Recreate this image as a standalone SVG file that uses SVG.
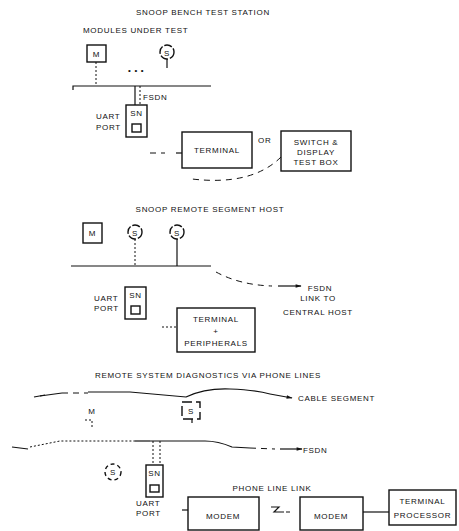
<svg xmlns="http://www.w3.org/2000/svg" width="459" height="531" viewBox="0 0 459 531">
<defs>
<style>
text{font-family:"Liberation Sans",Arial,sans-serif;font-size:8px;letter-spacing:0.7px;fill:#111;}
.c{text-anchor:middle;}
.box{fill:#fff;stroke:#111;stroke-width:1.4;}
.ln{fill:none;stroke:#111;stroke-width:1.2;}
.dot{fill:none;stroke:#111;stroke-width:1;stroke-dasharray:2 2;}
.dash{fill:none;stroke:#111;stroke-width:1;stroke-dasharray:6 5;}
</style>
<marker id="ah" viewBox="0 0 10 10" refX="9" refY="5" markerWidth="8" markerHeight="5" orient="auto-start-reverse"><path d="M0,2 L10,5 L0,8 z" fill="#111"/></marker>
</defs>
<rect width="459" height="531" fill="#fff"/>

<!-- Section 1 labels -->
<text class="c" x="203" y="15">SNOOP BENCH TEST STATION</text>
<text x="83" y="33">MODULES UNDER TEST</text>
<text x="128" y="73">• • •</text>
<text x="143" y="100">FSDN</text>
<text x="96" y="119">UART</text>
<text x="96" y="130">PORT</text>
<text x="258" y="143">OR</text>

<!-- Section 2 labels -->
<text class="c" x="210" y="212">SNOOP REMOTE SEGMENT HOST</text>
<text class="c" x="320" y="291">FSDN</text>
<text class="c" x="318" y="301">LINK TO</text>
<text class="c" x="318" y="315">CENTRAL HOST</text>
<text x="94" y="301">UART</text>
<text x="94" y="311">PORT</text>

<!-- Section 3 labels -->
<text class="c" x="208" y="378">REMOTE SYSTEM DIAGNOSTICS VIA PHONE LINES</text>
<text x="298" y="401">CABLE SEGMENT</text>
<text x="303" y="453">FSDN</text>
<text class="c" x="272" y="491">PHONE LINE LINK</text>
<text x="136" y="506">UART</text>
<text x="136" y="516">PORT</text>

<g id="connectors">
  <!-- section 1 -->
  <path class="ln" d="M73,90 V86 H211"/>
  <path class="dot" d="M96,62 V86"/>
  <path class="ln" d="M167,59 V68"/>
  <path class="ln" d="M135,86 V105"/>
  <path class="dot" d="M140,86 V105"/>
  <path class="dash" d="M150,153 H165"/>
  <path class="ln" d="M176,153 H182"/>
  <path class="dash" d="M281,157 Q252,186 192,179"/>
  <!-- section 2 -->
  <path class="ln" d="M71,266 H211"/>
  <path class="dot" d="M135,239 V266"/>
  <path class="ln" d="M177,239 V266"/>
  <path class="dash" d="M216,272 Q240,285 272,286"/>
  <path class="ln" d="M278,286 H301" stroke-width="2" marker-end="url(#ah)"/>
  <path class="dot" d="M162,327 H177"/>
  <!-- section 3 cable segment -->
  <path class="ln" d="M40,396 L62,393"/>
  <path class="ln" d="M34,397 L45,395" stroke-width="2.5"/>
  <path class="dash" d="M62,393 H88"/>
  <path class="ln" d="M88,392 H130 L186,397 Q205,388 230,389 Q255,390 270,394"/>
  <path class="ln" d="M270,394 L292,398" stroke-width="2" marker-end="url(#ah)"/>
  <!-- M tap -->
  <path class="dot" d="M85,420 H92 V428"/>
  <!-- S tap -->
  <path class="ln" d="M192,419 V423"/>
  <!-- FSDN line -->
  <path class="ln" d="M12,447 L28,449" stroke-width="2.5"/>
  <path class="dot" d="M30,447 L60,441 H135"/>
  <path class="ln" d="M135,441 H150"/>
  <path class="ln" d="M150,441 H205 Q218,441 232,447 L250,448"/>
  <path class="dash" d="M250,448 L275,449"/>
  <path class="ln" d="M280,449 H302" stroke-width="2" marker-end="url(#ah)"/>
  <path class="dot" d="M153,441 V465"/>
  <path class="dot" d="M160,441 V465"/>
  <!-- modems -->
  <path class="ln" d="M182,510 H188"/>
  <path class="ln" d="M271,507 H279 L274,512 H284 M286,512 H290"/>
  <path class="ln" d="M363,512 H389"/>
</g>

<g id="m1"><rect class="box" x="87" y="45" width="19" height="17"/><text class="c" x="96.5" y="57">M</text></g>
<g id="s1"><circle class="box" cx="167" cy="52" r="7" stroke-dasharray="8 2"/><text class="c" x="167" y="55.5">S</text></g>
<g id="sn1"><rect class="box" x="126" y="105" width="21" height="32"/><text class="c" x="136.5" y="116">SN</text><rect class="box" x="132" y="124" width="9" height="8" stroke-width="1"/></g>
<g id="terminal1"><rect class="box" x="182" y="132" width="70" height="36"/><text class="c" x="217" y="153">TERMINAL</text></g>
<g id="switchbox"><rect class="box" x="281" y="131" width="70" height="40"/><text class="c" x="316" y="145">SWITCH &amp;</text><text class="c" x="316" y="155">DISPLAY</text><text class="c" x="316" y="165">TEST BOX</text></g>

<g id="m2"><rect class="box" x="83" y="223" width="19" height="20"/><text class="c" x="92.5" y="236">M</text></g>
<g id="s2a"><circle class="box" cx="135" cy="232" r="7" stroke-dasharray="8 2"/><text class="c" x="135" y="235.5">S</text></g>
<g id="s2b"><circle class="box" cx="177" cy="232" r="7" stroke-dasharray="8 2"/><text class="c" x="177" y="235.5">S</text></g>
<g id="sn2"><rect class="box" x="125" y="287" width="21" height="32"/><text class="c" x="135.5" y="298">SN</text><rect class="box" x="131" y="306" width="9" height="8" stroke-width="1"/></g>
<g id="terminal2"><rect class="box" x="177" y="308" width="78" height="44"/><text class="c" x="216" y="322">TERMINAL</text><text class="c" x="216" y="334">+</text><text class="c" x="216" y="346">PERIPHERALS</text></g>

<g id="m3"><text class="c" x="92" y="414">M</text></g>
<g id="s3box"><rect class="box" x="182" y="402" width="18" height="17" stroke-dasharray="10 4"/><text class="c" x="191" y="414">S</text></g>
<g id="s3circle"><circle class="box" cx="113" cy="472" r="8" stroke-dasharray="4 3"/><text class="c" x="113" y="475">S</text></g>
<g id="sn3"><rect class="box" x="146" y="465" width="17" height="32"/><text class="c" x="154.5" y="476">SN</text><rect class="box" x="150" y="485" width="9" height="7" stroke-width="1"/></g>
<g id="modem1"><rect class="box" x="188" y="497" width="71" height="33"/><text class="c" x="223" y="519">MODEM</text></g>
<g id="modem2"><rect class="box" x="300" y="497" width="63" height="33"/><text class="c" x="331" y="519">MODEM</text></g>
<g id="termproc"><rect class="box" x="389" y="490" width="67" height="35"/><text class="c" x="422.5" y="504">TERMINAL</text><text class="c" x="422.5" y="518">PROCESSOR</text></g>
</svg>
